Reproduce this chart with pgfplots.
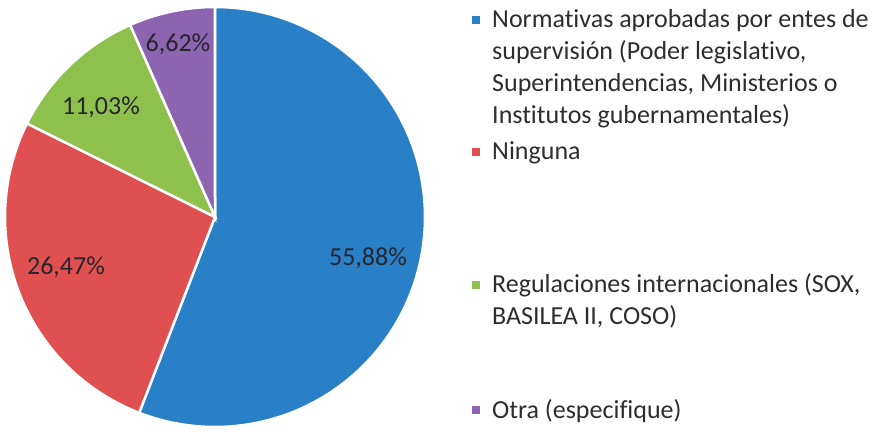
\documentclass[border=0pt]{standalone}
\usepackage{pgfplots}
\pgfplotsset{compat=1.18}
\usepackage{pgfplotstable}
\usepackage{fontspec}
\setmainfont{Carlito}[Ligatures=NoCommon]
\definecolor{cBlue}{RGB}{41,128,199}
\definecolor{cRed}{RGB}{224,80,80}
\definecolor{cGreen}{RGB}{141,192,76}
\definecolor{cPurple}{RGB}{140,100,175}
\definecolor{cText}{RGB}{38,38,45}
\definecolor{cLeg}{RGB}{45,45,45}

\pgfplotstableread{
label value
Normativas 55.88
Ninguna 26.47
Regulaciones 11.03
Otra 6.62
}\piedata

\pgfplotstablegetelem{0}{value}\of\piedata \let\va\pgfplotsretval
\pgfplotstablegetelem{1}{value}\of\piedata \let\vb\pgfplotsretval
\pgfplotstablegetelem{2}{value}\of\piedata \let\vc\pgfplotsretval
\pgfplotstablegetelem{3}{value}\of\piedata \let\vd\pgfplotsretval
\pgfmathsetmacro{\tot}{\va+\vb+\vc+\vd}
\pgfmathsetmacro{\aA}{90}
\pgfmathsetmacro{\aB}{\aA-360*(\va/\tot)}
\pgfmathsetmacro{\aC}{\aB-360*(\vb/\tot)}
\pgfmathsetmacro{\aD}{\aC-360*(\vc/\tot)}
\pgfmathsetmacro{\aE}{\aD-360*(\vd/\tot)}

\def\cx{215}
\def\cy{217}
\def\rr{210}

\begin{document}
\begin{tikzpicture}
\begin{axis}[
  scale only axis, width=875bp, height=434bp,
  xmin=0, xmax=875, ymin=0, ymax=434,
  hide axis, clip=false,
]
\path (axis cs:0,0) rectangle (axis cs:875,434);
\addplot[fill=cBlue, draw=white, line width=2.5bp, domain=\aB:\aA, samples=120, variable=\t]
  ({\cx+\rr*cos(\t)},{\cy+\rr*sin(\t)}) -- (axis cs:\cx,\cy) -- cycle;
\addplot[fill=cRed, draw=white, line width=2.5bp, domain=\aC:\aB, samples=80, variable=\t]
  ({\cx+\rr*cos(\t)},{\cy+\rr*sin(\t)}) -- (axis cs:\cx,\cy) -- cycle;
\addplot[fill=cGreen, draw=white, line width=2.5bp, domain=\aD:\aC, samples=50, variable=\t]
  ({\cx+\rr*cos(\t)},{\cy+\rr*sin(\t)}) -- (axis cs:\cx,\cy) -- cycle;
\addplot[fill=cPurple, draw=white, line width=2.5bp, domain=\aE:\aD, samples=40, variable=\t]
  ({\cx+\rr*cos(\t)},{\cy+\rr*sin(\t)}) -- (axis cs:\cx,\cy) -- cycle;

\begin{scope}[every node/.style={font=\fontsize{26bp}{32bp}\selectfont, text=cText, inner sep=0pt}]
\node at (axis cs:368,176) {55,88\%};
\node at (axis cs:66,167) {26,47\%};
\node at (axis cs:101,327) {11,03\%};
\node at (axis cs:178,390) {6,62\%};
\end{scope}

% legend
\begin{scope}[every node/.style={font=\fontsize{26bp}{32bp}\selectfont, text=cLeg, inner sep=0pt, anchor=base west}]
\node at (axis cs:472,406) {\textcolor{cBlue}{\rule[4bp]{8bp}{8bp}}};
\node at (axis cs:492,406) {Normativas aprobadas por entes de};
\node at (axis cs:492,374) {supervisión (Poder legislativo,};
\node at (axis cs:492,342) {Superintendencias, Ministerios o};
\node at (axis cs:492,310) {Institutos gubernamentales)};
\node at (axis cs:472,274) {\textcolor{cRed}{\rule[4bp]{8bp}{8bp}}};
\node at (axis cs:492,274) {Ninguna};
\node at (axis cs:472,141) {\textcolor{cGreen}{\rule[4bp]{8bp}{8bp}}};
\node at (axis cs:492,141) {Regulaciones internacionales (SOX,};
\node at (axis cs:492,109) {BASILEA II, COSO)};
\node at (axis cs:472,16) {\textcolor{cPurple}{\rule[4bp]{8bp}{8bp}}};
\node at (axis cs:492,16) {Otra (especifique)};
\end{scope}
\end{axis}
\end{tikzpicture}
\end{document}
